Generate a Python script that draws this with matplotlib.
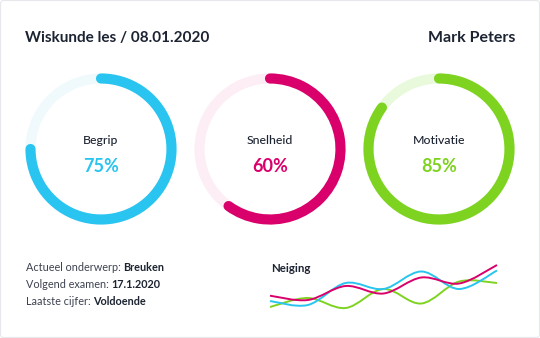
"""Lesoverzicht: drie voortgangsringen en een kleine trendlijn."""

import matplotlib
matplotlib.use("Agg")
import matplotlib.pyplot as plt
from matplotlib.patches import Arc, FancyBboxPatch
from matplotlib.path import Path
from matplotlib.patches import PathPatch

plt.rcParams["font.family"] = ["Lato", "DejaVu Sans"]

# DATA
title = "Wiskunde les / 08.01.2020"
student = "Mark Peters"

gauge_labels = ["Begrip", "Snelheid", "Motivatie"]
gauge_values = [75, 60, 85]
gauge_colors = ["#29c4ef", "#d9006b", "#7ed321"]
track_colors = ["#f0fafd", "#fdeef5", "#e9fadc"]

info_keys = ["Actueel onderwerp:", "Volgend examen:", "Laatste cijfer:"]
info_values = ["Breuken", "17.1.2020", "Voldoende"]

trend_title = "Neiging"
trend_pink = [24.3, 20.0, 34.0, 26.5, 42.5, 36.5, 55.0]
trend_blue = [19.0, 15.0, 37.0, 31.0, 48.5, 31.0, 49.5]
trend_green = [13.0, 22.0, 12.0, 31.0, 16.5, 38.5, 37.0]

DARK = "#1c2331"
W, H = 540, 338


def px_axes(fig, x0, y0, w, h):
    """Axes placed with pixel coordinates measured from the top-left corner."""
    return fig.add_axes([x0 / W, 1 - (y0 + h) / H, w / W, h / H])


def smooth_path(xs, ys):
    """Catmull-Rom style cubic Bezier through the given points."""
    pts = list(zip(xs, ys))
    ext = [pts[0]] + pts + [pts[-1]]
    verts = [pts[0]]
    codes = [Path.MOVETO]
    for i in range(1, len(ext) - 2):
        p0, p1, p2, p3 = ext[i - 1], ext[i], ext[i + 1], ext[i + 2]
        c1 = (p1[0] + (p2[0] - p0[0]) / 6, p1[1] + (p2[1] - p0[1]) / 6)
        c2 = (p2[0] - (p3[0] - p1[0]) / 6, p2[1] - (p3[1] - p1[1]) / 6)
        verts += [c1, c2, p2]
        codes += [Path.CURVE4] * 3
    return Path(verts, codes)


fig = plt.figure(figsize=(W / 100, H / 100), dpi=100)

# kader
bg = fig.add_axes([0, 0, 1, 1])
bg.set_xlim(0, W)
bg.set_ylim(H, 0)
bg.axis("off")
bg.add_patch(FancyBboxPatch((0.5, 0.5), W - 1, H - 1, boxstyle="round,pad=0,rounding_size=3",
                            fill=False, edgecolor="#e6e8ec", linewidth=0.8))

bg.text(25, 38, title, fontsize=11, fontweight="bold", color=DARK, va="center", ha="left")
bg.text(515, 38, student, fontsize=11.5, fontweight="bold", color=DARK, va="center", ha="right")

# RINGEN
centers = [101, 270, 439]
for cx, label, value, color, track in zip(centers, gauge_labels, gauge_values, gauge_colors, track_colors):
    ax = px_axes(fig, cx - 80, 149 - 80, 160, 160)
    ax.set_xlim(-1, 1)
    ax.set_ylim(-1, 1)
    ax.set_aspect("equal")
    ax.axis("off")
    r = 70.5 / 80
    ax.add_patch(Arc((0, 0), 2 * r, 2 * r, theta1=0, theta2=360, color=track, linewidth=7.3))
    arc = Arc((0, 0), 2 * r, 2 * r, theta1=90 - 3.6 * value, theta2=90, color=color, linewidth=7.3)
    arc.set_capstyle("round")
    ax.add_patch(arc)
    ax.text(0, 0.1, label, ha="center", va="center", fontsize=8.8, fontweight="medium", color=DARK)
    ax.text(0, -0.22, f"{value}%", ha="center", va="center", fontsize=13, fontweight="bold", color=color)

# INFO
for i, (k, v) in enumerate(zip(info_keys, info_values)):
    y = 267.5 + 17.2 * i
    t = bg.text(26, y, k + " ", fontsize=7.8, color="#3e4350", va="center", ha="left")
    bg.annotate(v, xycoords=t, xy=(1, 0.5), va="center", ha="left",
                fontsize=7.8, fontweight="bold", color=DARK)

# TRENDLIJN
bg.text(271, 268, trend_title, fontsize=8.3, fontweight="bold", color=DARK, va="center", ha="left")
tax = px_axes(fig, 270, 262, 227, 48)
tax.set_xlim(0, len(trend_pink) - 1)
tax.set_ylim(10, 58)
tax.axis("off")
xs = list(range(len(trend_pink)))
for series, color in [(trend_green, gauge_colors[2]), (trend_blue, gauge_colors[0]), (trend_pink, gauge_colors[1])]:
    tax.add_patch(PathPatch(smooth_path(xs, series), fill=False, edgecolor=color, linewidth=1.4,
                            clip_on=False))

fig.savefig("out.png", dpi=100)
